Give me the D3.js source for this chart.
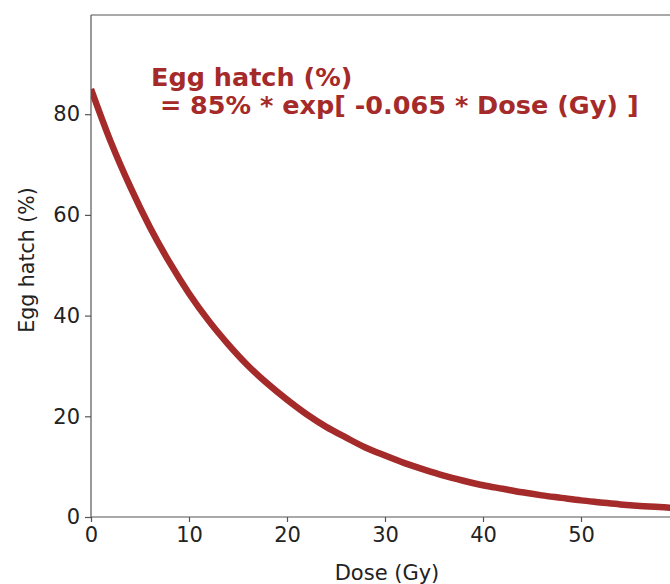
<!DOCTYPE html>
<html><head><meta charset="utf-8">
<script src="https://cdn.jsdelivr.net/npm/d3@7"></script>
<style>body{margin:0;background:#fff}svg{display:block}text{font-family:"DejaVu Sans",sans-serif}</style>
</head><body><svg id="c" width="670" height="584"></svg>
<script>
const dose = [0,2,4,6,8,10,12,14,16,18,20,22,24,26,28,30,32,34,36,38,40,42,44,46,48,50,52,54,56,58,60];
const hatch = [85.0,74.6,65.6,57.6,50.6,44.4,39.0,34.3,30.1,26.5,23.3,20.4,17.9,15.8,13.8,12.2,10.7,9.4,8.2,7.2,6.3,5.6,4.9,4.3,3.8,3.3,2.9,2.5,2.2,2.0,1.7];
const xTicks = [0,10,20,30,40,50];
const yTicks = [0,20,40,60,80];
const annotLines = ["Egg hatch (%)", " = 85% * exp[ -0.065 * Dose (Gy) ]"];

const svg = d3.select("#c");
const L = 91, T = 15, B = 517, R = 679;
const x = d3.scaleLinear().domain([0,60]).range([L,R]);
const y = d3.scaleLinear().domain([0,99.7]).range([B,T]);
const col = "#a52a2a", ax = "#555";

svg.append("defs").append("clipPath").attr("id","cp").append("rect")
  .attr("x",L).attr("y",T).attr("width",R-L).attr("height",B-T);

const line = d3.line().x((d,i)=>x(dose[i])).y(d=>y(d)).curve(d3.curveMonotoneX);
svg.append("path").datum(hatch).attr("d",line).attr("fill","none")
  .attr("stroke",col).attr("stroke-width",6.5).attr("clip-path","url(#cp)");

const gx = svg.append("g").attr("transform",`translate(0,${B})`)
  .call(d3.axisBottom(x).tickValues(xTicks).tickSize(5).tickPadding(5).tickFormat(d3.format("d")));
const gy = svg.append("g").attr("transform",`translate(${L},0)`)
  .call(d3.axisLeft(y).tickValues(yTicks).tickSize(6).tickPadding(5).tickFormat(d3.format("d")));
[gx,gy].forEach(g=>{
  g.select(".domain").remove();
  g.selectAll("line").attr("stroke",ax).attr("stroke-width",1.2);
  g.selectAll("text").attr("font-size",21).attr("fill","#222").style("font-family","DejaVu Sans");
});
// spines
svg.append("line").attr("x1",L).attr("x2",L).attr("y1",T).attr("y2",B).attr("stroke",ax).attr("stroke-width",1.2);
svg.append("line").attr("x1",L).attr("x2",R).attr("y1",B).attr("y2",B).attr("stroke",ax).attr("stroke-width",1.2);
svg.append("line").attr("x1",L).attr("x2",R).attr("y1",T).attr("y2",T).attr("stroke",ax).attr("stroke-width",1.2);

svg.append("text").attr("x",387).attr("y",580).attr("text-anchor","middle")
  .attr("font-size",21).attr("fill","#222").text("Dose (Gy)");
svg.append("text").attr("transform",`translate(34,260) rotate(-90)`).attr("text-anchor","middle")
  .attr("font-size",20.5).attr("fill","#222").text("Egg hatch (%)");

const at = svg.append("text").attr("x",151).attr("y",86).attr("font-size",25.5).attr("font-weight","bold")
  .attr("fill",col).style("white-space","pre");
annotLines.forEach((s,i)=>at.append("tspan").attr("x",151).attr("dy",i?28:0).text(s));
</script></body></html>
